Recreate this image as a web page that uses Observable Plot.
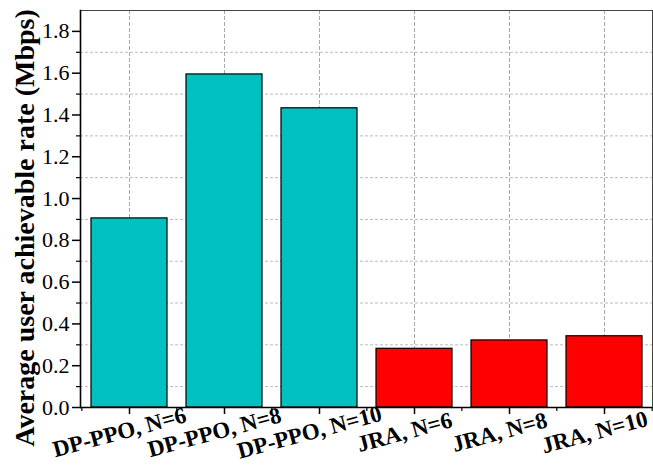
<!DOCTYPE html>
<html>
<head>
<meta charset="utf-8">
<script src="https://cdn.jsdelivr.net/npm/d3@7"></script>
<script src="https://cdn.jsdelivr.net/npm/@observablehq/plot@0.6"></script>
<style>
  html, body { margin: 0; padding: 0; background: #fff; }
  #chart { width: 653px; height: 468px; }
  #chart svg, #chart svg text { font-family: "Liberation Serif", "Times New Roman", serif !important; }
</style>
</head>
<body>
<div id="chart"></div>
<script>
const categories = ["DP-PPO, N=6", "DP-PPO, N=8", "DP-PPO, N=10", "JRA, N=6", "JRA, N=8", "JRA, N=10"];
const values = [0.905, 1.594, 1.432, 0.281, 0.321, 0.341];
const groups = ["DP-PPO", "DP-PPO", "DP-PPO", "JRA", "JRA", "JRA"];
const majorTicks = [0, 0.2, 0.4, 0.6, 0.8, 1.0, 1.2, 1.4, 1.6, 1.8];
const minorTicks = [0.1, 0.3, 0.5, 0.7, 0.9, 1.1, 1.3, 1.5, 1.7];
const yTitle = "Average user achievable rate (Mbps)";

const data = categories.map((c, i) => ({ cat: c, value: values[i], group: groups[i] }));

const W = 653, H = 468, mL = 80, mR = 1, mT = 10, mB = 61;
const step = (W - mL - mR) / categories.length;

const chart = Plot.plot({
  width: W,
  height: H,
  marginLeft: mL,
  marginRight: mR,
  marginTop: mT,
  marginBottom: mB,
  style: { fontFamily: "'Liberation Serif', 'Times New Roman', serif", background: "#fff" },
  x: { domain: categories, paddingInner: 0.2, paddingOuter: 0.1, axis: null },
  y: { domain: [0, 1.9], axis: null },
  color: { domain: ["DP-PPO", "JRA"], range: ["#00C0C0", "#FF0000"] },
  marks: [
    Plot.ruleY(minorTicks, { stroke: "#bbb", strokeDasharray: "3,2", strokeWidth: 1 }),
    Plot.ruleX(categories, { stroke: "#aaa", strokeDasharray: "4,2", strokeWidth: 1 }),
    Plot.barY(data, { x: "cat", y: "value", fill: "group", stroke: "#000", strokeWidth: 1.2 }),
    Plot.frame({ stroke: "#444", strokeWidth: 1 }),
    Plot.ruleY([0], { stroke: "#000", strokeWidth: 1.6 }),
    Plot.frame({ anchor: "left", stroke: "#000", strokeWidth: 1.6 }),
    Plot.axisY(majorTicks, { tickSize: 8, tickFormat: d3.format(".1f"), fontSize: 22, tickPadding: 3, stroke: "#000", strokeWidth: 1.5, label: null }),
    Plot.axisY(minorTicks, { tickSize: 4, tickFormat: () => "", stroke: "#000", strokeWidth: 1.2, label: null }),
    Plot.axisX(categories, { tickSize: 7, tickFormat: () => "", stroke: "#000", strokeWidth: 1.5, label: null }),
    Plot.axisX(categories, { tickSize: 4, tickFormat: () => "", dx: -step / 2, stroke: "#000", strokeWidth: 1.2, label: null }),
    Plot.axisX(categories.slice(-1), { tickSize: 4, tickFormat: () => "", dx: step / 2, stroke: "#000", strokeWidth: 1.2, label: null }),
    Plot.text(categories, { x: d => d, frameAnchor: "bottom", dx: -8, dy: 32, rotate: -15, text: d => d,
      fontSize: 23, fontWeight: "bold", fill: "#000", textAnchor: "middle" }),
    Plot.text([yTitle], { frameAnchor: "left", dx: -55, dy: 19, rotate: -90, text: d => d,
      fontSize: 28, fontWeight: "bold", fill: "#000", textAnchor: "middle" })
  ]
});

document.getElementById("chart").appendChild(chart);
</script>
</body>
</html>
